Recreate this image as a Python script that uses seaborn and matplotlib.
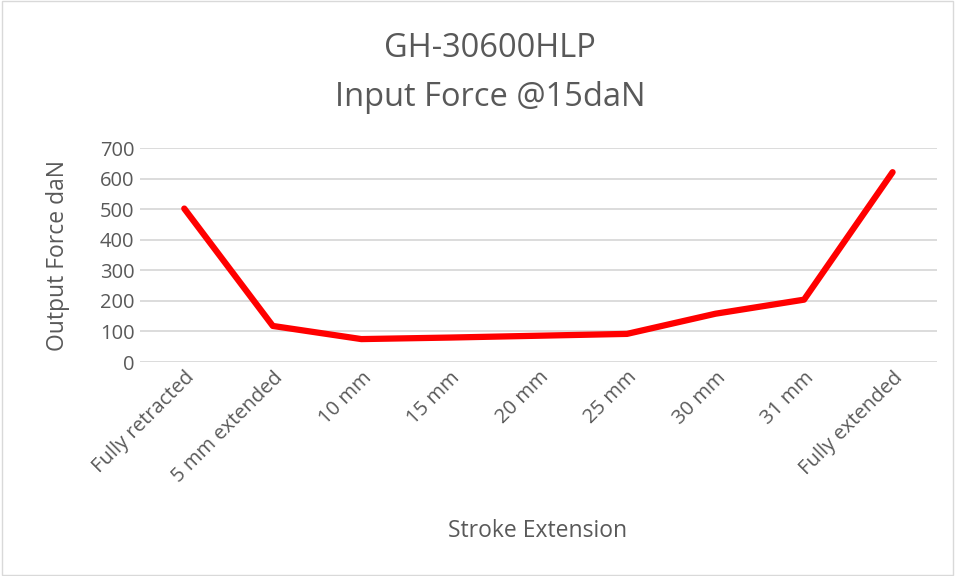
import matplotlib
matplotlib.use('Agg')
import matplotlib.pyplot as plt
import seaborn as sns
import pandas as pd

# Data
stroke_labels = ['Fully retracted', '5 mm extended', '10 mm', '15 mm', '20 mm',
                 '25 mm', '30 mm', '31 mm', 'Fully extended']
output_force = [502, 118, 75, 80, 86, 92, 158, 204, 621]

df = pd.DataFrame({'stroke': stroke_labels, 'force': output_force})

sns.set_style('white')
plt.rcParams['font.family'] = ['Open Sans', 'DejaVu Sans']
text_color = '#595959'

fig = plt.figure(figsize=(9.55, 5.76), dpi=100)
ax = fig.add_axes([0.1466, 0.3715, 0.8344, 0.3715])

sns.lineplot(data=df, x='stroke', y='force', color='#ff0000', linewidth=4.5,
             sort=False, ax=ax, solid_capstyle='round')

ax.set_ylim(0, 700)
ax.set_yticks(range(0, 701, 100))
ax.set_xlim(-0.5, len(stroke_labels) - 0.5)
ax.yaxis.grid(True, color='#d9d9d9', linewidth=1.3)
ax.set_axisbelow(True)
for s in ax.spines.values():
    s.set_visible(False)
ax.tick_params(axis='both', length=0, labelsize=14.5, colors=text_color, pad=4)
ax.set_xticks(range(len(stroke_labels)))
ax.set_xticklabels(stroke_labels, rotation=45, ha='right', rotation_mode='anchor')
ax.set_xlabel('')
ax.set_ylabel('')

fig.text(0.513, 0.915, 'GH-30600HLP', ha='center', va='center', fontsize=23.5, color=text_color)
fig.text(0.513, 0.83, 'Input Force @15daN', ha='center', va='center', fontsize=23.5, color=text_color)
fig.text(0.563, 0.078, 'Stroke Extension', ha='center', va='center', fontsize=16.5, color=text_color)
fig.text(0.061, 0.557, 'Output Force daN', ha='center', va='center', rotation=90,
         fontsize=16.5, color=text_color)

# light border around the chart
fig.patches.append(plt.Rectangle((0.002, 0.002), 0.996, 0.996, transform=fig.transFigure,
                                 fill=False, edgecolor='#d9d9d9', linewidth=1))

fig.savefig('out.png', dpi=100)
